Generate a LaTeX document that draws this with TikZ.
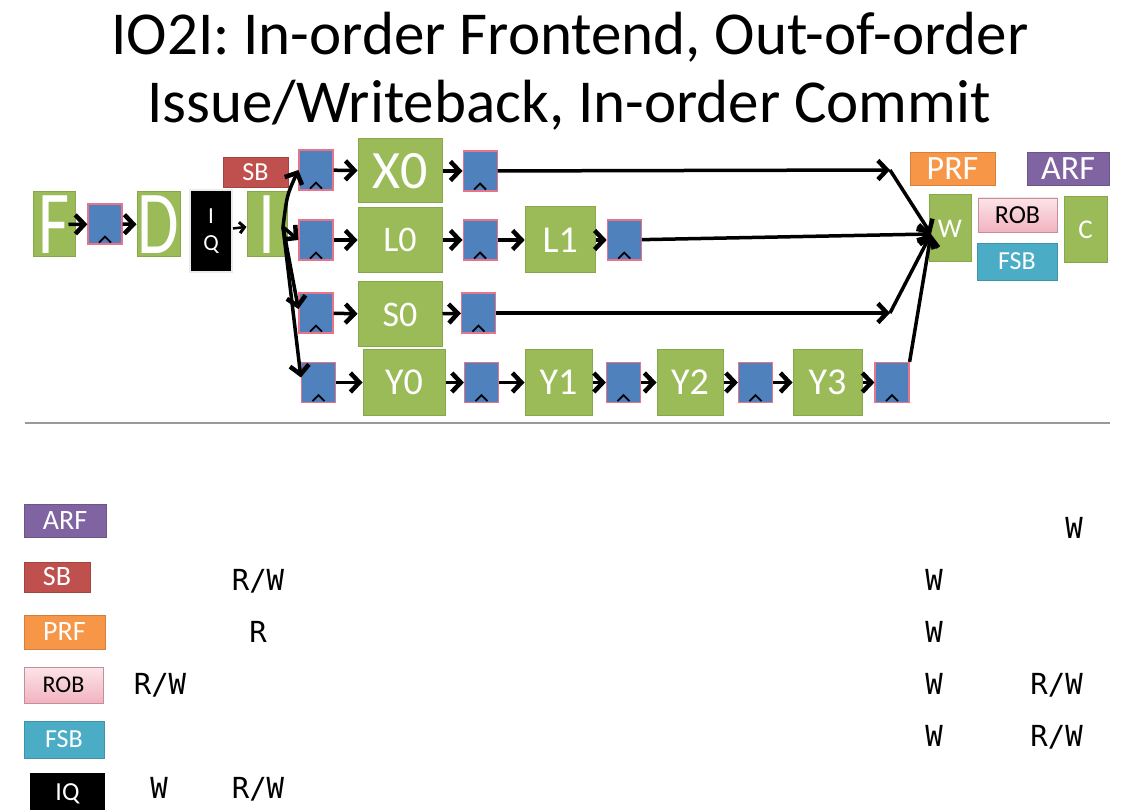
\documentclass[tikz,border=0pt]{standalone}
\usepackage{fontspec}
\setmainfont{Carlito}
\newfontfamily\cellfont{DejaVu Sans Mono}
\usetikzlibrary{arrows.meta, positioning}
\definecolor{stagegreen}{HTML}{9BBB59}
\definecolor{stageedge}{HTML}{86A84A}
\definecolor{regblue}{HTML}{4F81BD}
\definecolor{regedge}{HTML}{E8748C}
\definecolor{sbred}{HTML}{C0504D}
\definecolor{prforange}{HTML}{F79646}
\definecolor{arfpurple}{HTML}{8064A2}
\definecolor{fsbcyan}{HTML}{4BACC6}
\definecolor{robtop}{HTML}{FCE4E8}
\definecolor{robbot}{HTML}{F2B3C0}
\tikzset{arr/.style = {line width=3.5pt, -{Straight Barb[length=9pt,width=19pt,line width=4.5pt]}}}
\tikzset{sarr/.style = {line width=2.5pt, -{Straight Barb[length=5pt,width=11pt,line width=3pt]}}}
\tikzset{stage/.style = {draw=stageedge, fill=stagegreen, line width=1pt, text=white, inner sep=0pt}}
\tikzset{preg/.style = {draw=regedge, fill=regblue, line width=1.2pt, inner sep=0pt,
                        minimum width=34pt, minimum height=40pt}}
\tikzset{tag/.style = {draw=#1!85!black, fill=#1, text=white, line width=0.8pt, inner sep=0pt}}
\tikzset{cell/.style = {font=\cellfont\fontsize{29}{29}\selectfont, anchor=base, inner sep=0pt}}
\newcommand{\fs}[1]{\fontsize{#1}{#1}\selectfont}

\begin{document}
\begin{tikzpicture}[x=1pt, y=1pt]
    \useasboundingbox[fill=white] (0,0) rectangle (1144,-810);

    % title
    \node[anchor=base, font=\fs{61}] (title)    at (570,-55)  {IO2I: In-order Frontend, Out-of-order};
    \node[anchor=base, font=\fs{61}] (subtitle) at (569,-123) {Issue/Writeback, In-order Commit};

    % frontend
    \node[stage, minimum width=42pt, minimum height=65pt, font=\fs{90}] (F) at (54,-224.5) {\scalebox{0.75}[1]{F}};
    \node[preg] (r0) at (105,-224) {};
    \node[stage, minimum width=43pt, minimum height=65pt, font=\fs{90}] (D) at (158.5,-224.5) {\scalebox{0.75}[1]{D}};
    \node[fill=black, draw=black!8, line width=2pt, minimum width=42pt, minimum height=82pt,
          text=white, align=center, font=\fs{23}, inner sep=0pt] (IQ) at (211,-231) {I\\[4pt]Q};
    \node[stage, minimum width=40pt, minimum height=65pt, font=\fs{90}] (I) at (267,-224.5) {\scalebox{0.75}[1]{I}};
    \node[tag=sbred, minimum width=65pt, minimum height=30pt, font=\fs{26}] (SB) at (255.5,-172) {SB};

    % issue registers
    \node[preg] (rX0) at (316,-170) {};
    \node[preg] (rL0) at (316,-240) {};
    \node[preg] (rS0) at (316,-313) {};
    \node[preg] (rY0) at (318.5,-382.5) {};

    % functional units
    \node[stage, minimum width=84pt, minimum height=64pt, font=\fs{54}] (X0) at (400,-171) {X0};
    \node[stage, minimum width=84pt, minimum height=65pt, font=\fs{36}] (L0) at (400,-240) {L0};
    \node[stage, minimum width=84pt, minimum height=65pt, font=\fs{36}] (S0) at (400,-314.5) {S0};
    \node[stage, minimum width=82pt, minimum height=66pt, font=\fs{38}] (Y0) at (404,-382.5) {Y0};

    \node[preg] (rX1) [right=20pt of X0] {};
    \node[preg] (rL1) [right=20pt of L0] {};
    \node[stage, minimum width=70pt, minimum height=66pt, font=\fs{38}] (L1) [right=27pt of rL1] {L1};
    \node[preg] (rL2) [right=11pt of L1] {};
    \node[preg] (rS1) at (478.5,-313) {};

    \node[preg] (rY1) at (481.5,-382.5) {};
    \node[stage, minimum width=67pt, minimum height=66pt, font=\fs{38}] (Y1) at (558.5,-382.5) {Y1};
    \node[preg] (rY2) at (623.5,-382.5) {};
    \node[stage, minimum width=66pt, minimum height=66pt, font=\fs{38}] (Y2) at (690,-382.5) {Y2};
    \node[preg] (rY3) at (755.5,-382.5) {};
    \node[stage, minimum width=69pt, minimum height=66pt, font=\fs{38}] (Y3) at (827.5,-382.5) {Y3};
    \node[preg] (rY4) at (892,-382.5) {};

    % writeback / commit
    \node[stage, minimum width=42pt, minimum height=67pt, font=\fs{27}] (W) at (950,-228.5) {W};
    \node[stage, minimum width=43pt, minimum height=66pt, font=\fs{27}] (C) at (1085.5,-230) {C};
    \node[tag=prforange, minimum width=85pt, minimum height=33pt, font=\fs{34}] (PRF) at (952.5,-168.5) {PRF};
    \node[tag=arfpurple, minimum width=82pt, minimum height=33pt, font=\fs{34}] (ARF) at (1068,-168.5) {ARF};
    \node[draw=robbot!80!black, top color=robtop, bottom color=robbot, line width=0.8pt, inner sep=0pt,
          minimum width=79pt, minimum height=34pt, font=\fs{26}] (ROB) at (1017.5,-215) {ROB};
    \node[tag=fsbcyan, minimum width=80pt, minimum height=37pt, font=\fs{26}] (FSB) at (1017,-261.5) {FSB};

    % register clock marks
    \foreach \Reg in {r0, rX0, rL0, rS0, rY0, rX1, rL1, rL2, rS1, rY1, rY2, rY3, rY4}
        \draw[line width=1.8pt] ([xshift=-6pt,yshift=2pt]\Reg.south) -- ([yshift=8pt]\Reg.south)
                                -- ([xshift=6pt,yshift=2pt]\Reg.south);

    % pipeline arrows
    \draw[arr]  ([xshift=-7pt]F.east) -- (r0);
    \draw[arr]  (r0) -- (D);
    \draw[sarr] (IQ) -- (I);
    \coordinate (iOut) at (283,-227);
    \draw[arr] (iOut) .. controls (287,-195) .. (rX0.west);
    \draw[arr] (iOut) -- (rL0.west);
    \draw[arr] (iOut) -- ([yshift=4pt]rS0.west);
    \draw[arr] (iOut) -- ([yshift=5pt]rY0.west);

    \draw[arr] (rX0) -- (X0);
    \draw[arr] (X0) -- (rX1);
    \draw[arr] (rL0) -- (L0);
    \foreach \Stage [remember=\Stage as \lastStage (initially L0)] in {rL1, L1, rL2}
        \draw[arr] (\lastStage) -- (\Stage);
    \draw[arr] (rS0) -- (S0);
    \draw[arr] (S0) -- (rS1);
    \foreach \Stage [remember=\Stage as \lastStage (initially rY0)] in {Y0, rY1, Y1, rY2, Y2, rY3, Y3, rY4}
        \draw[arr] (\lastStage) -- (\Stage);

    \coordinate (wIn) at (931,-234);
    \coordinate (jX)  at (890,-170);
    \coordinate (jS)  at (890,-313);
    \draw[arr] (rX1) -- (jX);
    \draw[arr] (jX) -- (wIn);
    \draw[arr] (rL2) -- (wIn);
    \draw[arr] (rS1) -- (jS);
    \draw[arr] (jS) -- (wIn);
    \draw[arr] (rY4.north east) -- (wIn);

    % separator
    \draw[black!40, line width=1.5pt] (25,-423) -- (1110,-423);

    % legend
    \node[tag=arfpurple, minimum width=82pt, minimum height=33pt, font=\fs{28}] (lARF) at (65,-520.5) {ARF};
    \node[tag=sbred, minimum width=66pt, minimum height=30pt, font=\fs{28}] (lSB) at (57,-577) {SB};
    \node[tag=prforange, minimum width=81pt, minimum height=34pt, font=\fs{28}] (lPRF) at (64.5,-632) {PRF};
    \node[draw=robbot!80!black, top color=robtop, bottom color=robbot, line width=0.8pt, inner sep=0pt,
          minimum width=79pt, minimum height=36pt, font=\fs{24}] (lROB) at (63.5,-685) {ROB};
    \node[tag=fsbcyan, minimum width=80pt, minimum height=37pt, font=\fs{26}] (lFSB) at (64,-739.5) {FSB};
    \node[fill=black, minimum width=75pt, minimum height=42pt, text=white, inner sep=0pt,
          font=\fs{26}] (lIQ) at (67.5,-794) {IQ};

    % access table
    \foreach \Col/\Row/\Txt [count=\i] in {
        258/590/{R/W}, 934/590/W,
        258/642/R, 934/642/W,
        160/694/{R/W}, 934/694/W,
        934/746/W,
        159/798/W, 258/798/{R/W}%
    }
    \node[cell] (cell\i) at (\Col,-\Row) {\Txt};
    \foreach \Row/\Txt [count=\i] in {538/W, 694/{R/W}, 746/{R/W}}
    \node[cell, anchor=base east] (end\i) at (1083,-\Row) {\Txt};
\end{tikzpicture}
\end{document}
